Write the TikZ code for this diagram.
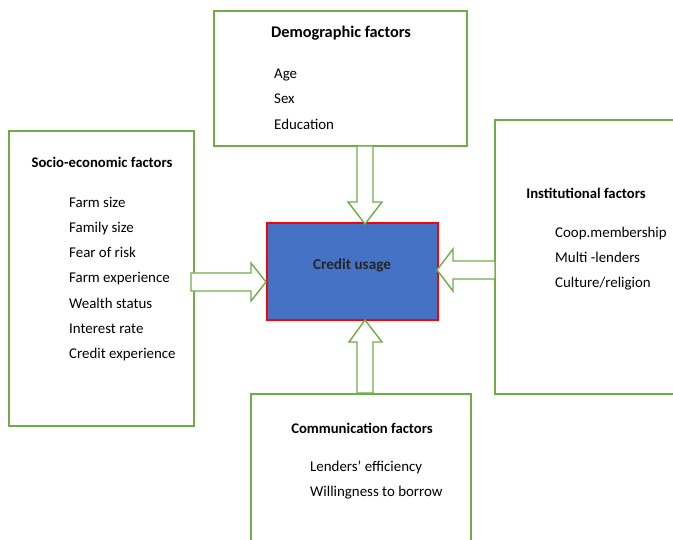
\documentclass[tikz,border=0pt]{standalone}
\usepackage{fontspec}
\setmainfont{Carlito}
\definecolor{boxgreen}{RGB}{112,173,71}
\definecolor{cublue}{RGB}{68,114,196}
\begin{document}
\begin{tikzpicture}[x=1pt,y=-1pt,
  factorbox/.style={draw=boxgreen,line width=2pt,fill=white},
  blockarrow/.style={draw=boxgreen,line width=1.4pt,fill=white,line join=miter},
  titletext/.style={font=\fontsize{14.7}{18}\selectfont\bfseries,inner sep=0pt},
  listtext/.style={font=\fontsize{14.9}{25.3}\selectfont,align=left,inner sep=0pt,anchor=west}]
\useasboundingbox (0,0) rectangle (673,540);
\clip (0,0) rectangle (673,540);
\fill[white] (0,0) rectangle (673,540);
% boxes
\draw[factorbox] (214,11) rectangle (467,146);
\draw[factorbox] (9,131) rectangle (194,426);
\draw[factorbox] (495,120) rectangle (690,394);
\draw[factorbox] (251,394) rectangle (471,560);
\node[draw=red,fill=cublue,line width=2pt,minimum width=171pt,minimum height=97pt,
      inner sep=0pt] (cu) at (352,271.5) {};
\node[font=\fontsize{15.2}{18}\selectfont\bfseries,text=black!85,inner sep=0pt] (cutext) at (352,265) {Credit usage};
% arrows
\draw[blockarrow] (357,146) -- (357,202) -- (348,202) -- (365,224) -- (382,202) -- (373,202) -- (373,146) -- cycle;
\draw[blockarrow] (191,273) -- (251,273) -- (251,263) -- (266,282) -- (251,301) -- (251,291) -- (191,291) -- cycle;
\draw[blockarrow] (495,261) -- (453,261) -- (453,249) -- (437,270) -- (453,291) -- (453,279) -- (495,279) -- cycle;
\draw[blockarrow] (357,393) -- (357,342) -- (349,342) -- (365,320) -- (382,342) -- (373,342) -- (373,393) -- cycle;
% texts
\node[titletext,font=\fontsize{16.3}{20}\selectfont\bfseries] (demt) at (341,33) {Demographic factors};
\node[listtext] (deml) at (274,99) {Age\\Sex\\Education};
\node[titletext] (soct) at (102,162) {Socio-economic factors};
\node[listtext] (socl) at (69,279) {Farm size\\Family size\\Fear of risk\\Farm experience\\Wealth status\\Interest rate\\Credit experience};
\node[titletext] (inst) at (586,193) {Institutional factors};
\node[listtext] (insl) at (555,258.5) {Coop.membership\\Multi -lenders\\Culture/religion};
\node[titletext] (comt) at (362,428) {Communication factors};
\node[listtext] (coml) at (310,480) {Lenders’ efficiency\\Willingness to borrow};
\end{tikzpicture}
\end{document}
